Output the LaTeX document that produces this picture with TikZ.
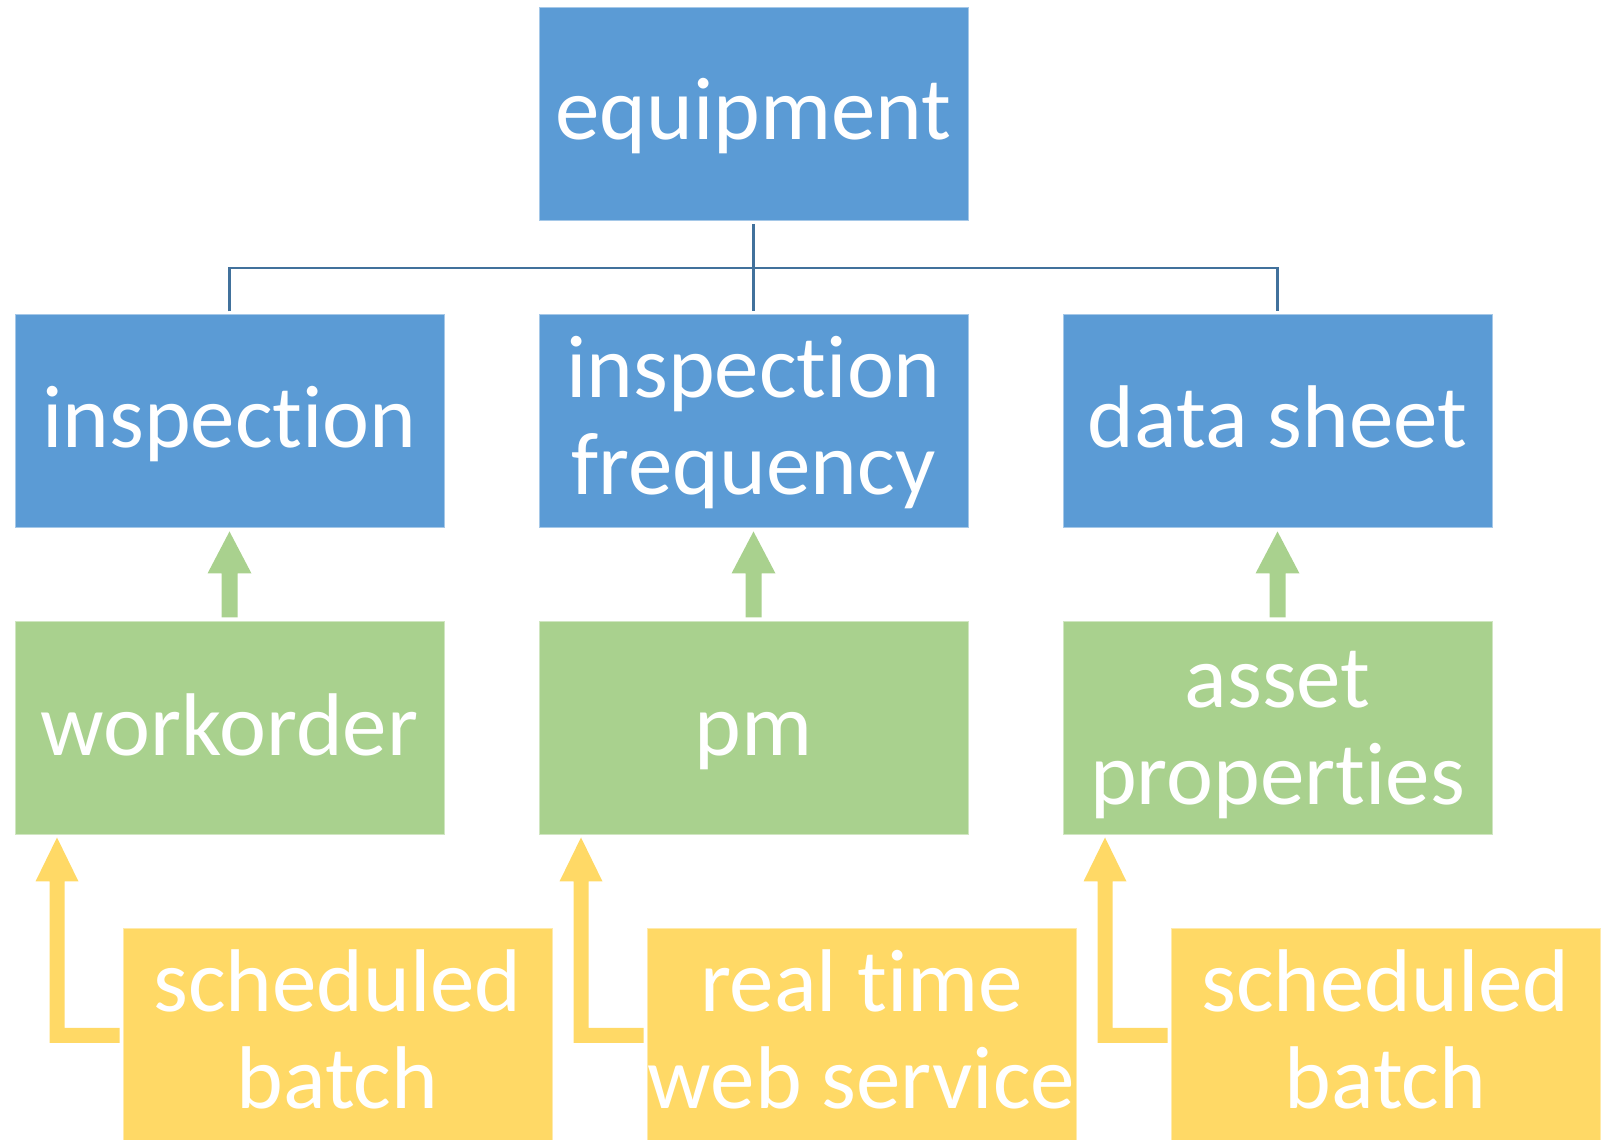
\documentclass[tikz,border=0pt]{standalone}
\usepackage{fontspec}
\setmainfont{Carlito}[Ligatures=NoCommon]
\usetikzlibrary{calc}
\definecolor{boxblue}{HTML}{5B9BD5}
\definecolor{boxgreen}{HTML}{A9D18E}
\definecolor{boxyellow}{HTML}{FFD966}
\definecolor{connblue}{HTML}{41719C}
\newcommand{\twolines}[2]{\parbox[t]{600pt}{\centering #1\\#2}}
\newcommand{\uparrowg}[2]{%
  \fill[garrow] let \p1=(#1.south), \p2=(#2.north) in
    (\x1,\y1-3pt) -- (\x1+22pt,\y1-45pt) -- (\x1+8pt,\y1-45pt) -- (\x1+8pt,\y2+4pt)
    -- (\x1-8pt,\y2+4pt) -- (\x1-8pt,\y1-45pt) -- (\x1-22pt,\y1-45pt) -- cycle;}
\newcommand{\elbowy}[2]{%
  \fill[yarrow] let \p1=(#1.south west), \p2=(#2.west) in
    (\x1+42.5pt,\y1-2pt) -- (\x1+64pt,\y1-46pt) -- (\x1+50pt,\y1-46pt) -- (\x1+50pt,\y2+7.5pt)
    -- (\x2-3pt,\y2+7.5pt) -- (\x2-3pt,\y2-7.5pt) -- (\x1+35pt,\y2-7.5pt)
    -- (\x1+35pt,\y1-46pt) -- (\x1+21pt,\y1-46pt) -- cycle;}
\begin{document}
\begin{tikzpicture}[x=1pt,y=1pt,
  box/.style={rectangle, minimum width=429pt, minimum height=213pt, inner sep=0pt, line width=1pt},
  bluebox/.style={box, fill=boxblue, draw=boxblue!55!white},
  greenbox/.style={box, fill=boxgreen, draw=boxgreen!55!white},
  yellowbox/.style={box, fill=boxyellow, draw=boxyellow!55!white},
  lbl/.style={text=white, inner sep=0pt, anchor=base, font=\fontsize{89}{97}\selectfont},
  conn/.style={draw=connblue, line width=2.5pt},
  garrow/.style={fill=boxgreen},
  yarrow/.style={fill=boxyellow}]
\useasboundingbox (0,0) rectangle (1614,1140);

% boxes
\node[bluebox] (eq) at (753.5,1026) {};
\node[bluebox] (ins) at (229.5,718.5) {};
\node[bluebox] (fr) at (753.5,718.5) {};
\node[bluebox] (ds) at (1277.5,718.5) {};
\node[greenbox] (wo) at (229.5,411.5) {};
\node[greenbox] (pm) at (753.5,411.5) {};
\node[greenbox] (ap) at (1277.5,411.5) {};
\node[yellowbox] (yb1) at (337.5,104.5) {};
\node[yellowbox] (yb2) at (861.5,104.5) {};
\node[yellowbox] (yb3) at (1385.5,104.5) {};

% labels
\node[lbl] (eq-t) at ($(eq)+(0,-26)$) {equipment};
\node[lbl] (ins-t) at ($(ins)+(0,-26)$) {inspection};
\node[lbl] (fr-t) at ($(fr)+(0,23.5)$) {\twolines{inspection}{frequency}};
\node[lbl] (ds-t) at ($(ds)+(0,-26)$) {data sheet};
\node[lbl] (wo-t) at ($(wo)+(0,-27)$) {workorder};
\node[lbl] (pm-t) at ($(pm)+(0,-27)$) {pm};
\node[lbl] (ap-t) at ($(ap)+(0,21)$) {\twolines{asset}{properties}};
\node[lbl] (yb1-t) at ($(yb1)+(0,23.5)$) {\twolines{scheduled}{batch}};
\node[lbl] (yb2-t) at ($(yb2)+(0,23.5)$) {\twolines{real time}{web service}};
\node[lbl] (yb3-t) at ($(yb3)+(0,23.5)$) {\twolines{scheduled}{batch}};

% hierarchy connectors
\coordinate (bus) at (753.5,872);
\draw[conn] ([yshift=-3pt]eq.south) -- (bus);
\draw[conn] ([yshift=3pt]ins.north) |- (bus) -| ([yshift=3pt]ds.north);
\draw[conn] (bus) -- ([yshift=3pt]fr.north);

% green block arrows
\uparrowg{ins}{wo}
\uparrowg{fr}{pm}
\uparrowg{ds}{ap}

% yellow elbow arrows
\elbowy{wo}{yb1}
\elbowy{pm}{yb2}
\elbowy{ap}{yb3}
\end{tikzpicture}
\end{document}
